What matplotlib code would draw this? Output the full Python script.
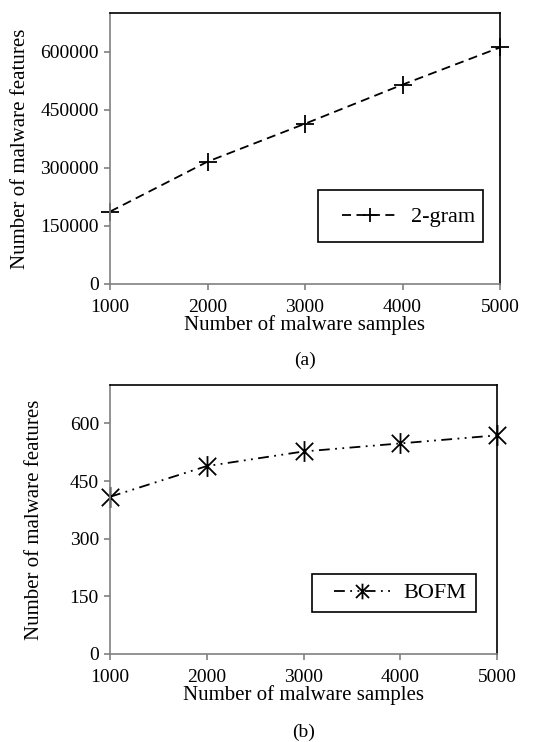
import matplotlib
matplotlib.use("Agg")
import matplotlib.pyplot as plt
from matplotlib.path import Path
from matplotlib.patches import Rectangle

plt.rcParams['font.family'] = ['Liberation Serif', 'DejaVu Serif']

samples = [1000, 2000, 3000, 4000, 5000]
gram2 = [187000, 316000, 414000, 515000, 611000]
bofm = [409, 489, 527, 548, 569]
yticks_a = [0, 150000, 300000, 450000, 600000]
yticks_b = [0, 150, 300, 450, 600]

W, H = 533, 742
fig = plt.figure(figsize=(W/100, H/100), dpi=100)

def ax_at(l, t, r, b):
    return fig.add_axes([l/W, 1-b/H, (r-l)/W, (b-t)/H])

star = Path([(-1, -1), (1, 1), (-1, 1), (1, -1), (0, -1.2), (0, 1.2)],
            [Path.MOVETO, Path.LINETO, Path.MOVETO, Path.LINETO, Path.MOVETO, Path.LINETO])

def style(ax, yt, ymax, ylx):
    ax.set_xlim(1000, 5000)
    ax.set_ylim(0, ymax)
    ax.set_xticks(samples)
    ax.set_yticks(yt)
    for s in ['left', 'bottom']:
        ax.spines[s].set_color('#808080')
        ax.spines[s].set_linewidth(1.2)
    for s in ['top', 'right']:
        ax.spines[s].set_color('black')
        ax.spines[s].set_linewidth(1.2)
    ax.tick_params(axis='both', direction='out', length=4.5, width=1.2, color='#808080',
                   labelsize=14)
    ax.tick_params(axis='y', pad=3.5)
    ax.tick_params(axis='x', pad=6)
    ax.set_xlabel('Number of malware samples', fontsize=15, labelpad=0)
    ax.set_ylabel('Number of malware features', fontsize=15)
    ax.yaxis.set_label_coords(ylx, 0.5)

def box_legend(ax, box, hx, cy):
    l, t, r, b = box
    ax.add_patch(Rectangle((l/W, 1-b/H), (r-l)/W, (b-t)/H, transform=fig.transFigure,
                           facecolor='white', edgecolor='black', linewidth=1.2,
                           zorder=5, clip_on=False))
    leg = ax.legend(loc='center left', bbox_to_anchor=(hx/W, 1-cy/H),
                    bbox_transform=fig.transFigure, frameon=False, fontsize=16,
                    handlelength=2.5, borderpad=0, handletextpad=0.6, borderaxespad=0,
                    markerscale=0.75)
    leg.set_zorder(6)
    return leg

ax1 = ax_at(110, 13, 500, 284)
ax1.plot(samples, gram2, color='black', linestyle=(0, (5, 3)), linewidth=1.3,
         marker='+', markersize=13, markeredgewidth=1.3, label='2-gram', clip_on=False)
style(ax1, yticks_a, 700000, (30-110)/390)
box_legend(ax1, (318, 190, 483, 242), 342, 217)
fig.text((110+500)/2/W, 1-360/H, '(a)', ha='center', va='center', fontsize=14)

ax2 = ax_at(110, 385, 497, 654)
ax2.plot(samples, bofm, color='black', linestyle=(0, (6, 3, 1, 3, 1, 3)), linewidth=1.3,
         marker=star, markersize=15, markeredgewidth=1.3, markerfacecolor='none',
         label='BOFM', clip_on=False)
style(ax2, yticks_b, 700, (44-110)/387)
box_legend(ax2, (312, 574, 476, 612), 334, 593)
fig.text((110+497)/2/W, 1-732/H, '(b)', ha='center', va='center', fontsize=14)

fig.savefig('out.png', dpi=100)
